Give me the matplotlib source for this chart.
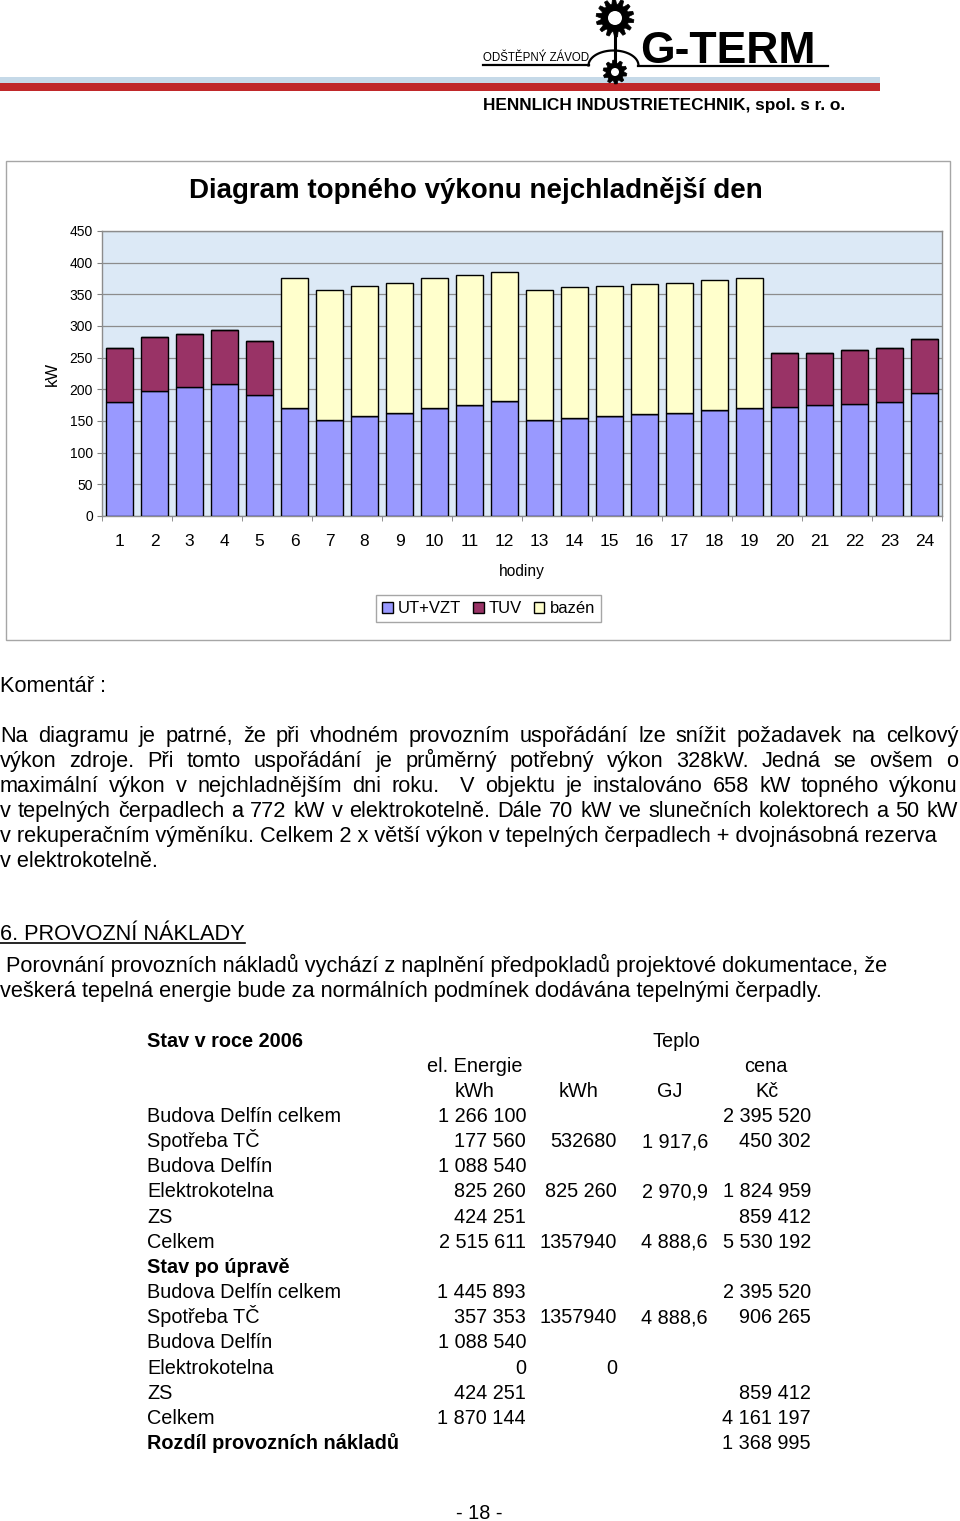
import numpy as np
import matplotlib
matplotlib.use('Agg')
import matplotlib.pyplot as plt
from matplotlib.patches import Rectangle, Polygon, Circle

plt.rcParams['font.family'] = ['Liberation Sans', 'DejaVu Sans']

# chart data (kW per hour of the coldest day)
hours = list(range(1, 25))
ut_vzt = [180, 198, 203, 208, 191, 170, 152, 158, 163, 170, 176, 181,
          152, 154, 158, 161, 163, 167, 170, 172, 175, 177, 180, 194]
tuv = [85, 84, 84, 85, 85, 0, 0, 0, 0, 0, 0, 0,
       0, 0, 0, 0, 0, 0, 0, 85, 83, 85, 85, 86]
bazen = [0, 0, 0, 0, 0, 205, 205, 205, 205, 205, 205, 205,
         205, 207, 205, 205, 205, 205, 205, 0, 0, 0, 0, 0]
series_names = ['UT+VZT', 'TUV', 'bazén']
series_colors = ['#9999ff', '#993366', '#ffffcc']

comment_lines = [
    "Na diagramu je patrné, že při vhodném provozním uspořádání lze snížit požadavek na celkový",
    "výkon zdroje. Při tomto uspořádání je průměrný potřebný výkon 328kW. Jedná se ovšem o",
    "maximální výkon v nejchladnějším dni roku.  V objektu je instalováno 658 kW topného výkonu",
    "v tepelných čerpadlech a 772 kW v elektrokotelně. Dále 70 kW ve slunečních kolektorech a 50 kW",
    "v rekuperačním výměníku. Celkem 2 x větší výkon v tepelných čerpadlech + dvojnásobná rezerva",
    "v elektrokotelně.",
]
justified = [True, True, True, True, False, False]

# cost table: label, el. energie kWh, teplo kWh, teplo GJ, cena Kč, bold
table_rows = [
    ("Budova Delfín celkem", "1 266 100", "", "", "2 395 520", False),
    ("Spotřeba TČ", "177 560", "532680", "1 917,6", "450 302", False),
    ("Budova Delfín", "1 088 540", "", "", "", False),
    ("Elektrokotelna", "825 260", "825 260", "2 970,9", "1 824 959", False),
    ("ZS", "424 251", "", "", "859 412", False),
    ("Celkem", "2 515 611", "1357940", "4 888,6", "5 530 192", False),
    ("Stav po úpravě", "", "", "", "", True),
    ("Budova Delfín celkem", "1 445 893", "", "", "2 395 520", False),
    ("Spotřeba TČ", "357 353", "1357940", "4 888,6", "906 265", False),
    ("Budova Delfín", "1 088 540", "", "", "", False),
    ("Elektrokotelna", "0", "0", "", "", False),
    ("ZS", "424 251", "", "", "859 412", False),
    ("Celkem", "1 870 144", "", "", "4 161 197", False),
    ("Rozdíl provozních nákladů", "", "", "", "1 368 995", True),
]

W, H = 960, 1521
fig = plt.figure(figsize=(W / 100, H / 100), dpi=100)
fig.patch.set_facecolor('white')

# page layer in pixel coordinates
pg = fig.add_axes([0, 0, 1, 1])
pg.set_xlim(0, W)
pg.set_ylim(H, 0)
pg.axis('off')
renderer = fig.canvas.get_renderer()

BODY = 15.7
TS = 14.3


def txt(x, y, s, size, **kw):
    # y is the visual middle of the line; place on a shared baseline
    return pg.text(x, y + 0.35 * size * 100 / 72, s, fontsize=size, va='baseline', **kw)


def gear(cx, cy, r_out, r_in, r_hole, n):
    pts = []
    for k in range(n):
        a0 = 2 * np.pi * k / n
        da = 2 * np.pi / n
        for a, r in [(a0, r_in), (a0 + da * 0.2, r_out), (a0 + da * 0.55, r_out), (a0 + da * 0.75, r_in)]:
            pts.append((cx + r * np.cos(a), cy + r * np.sin(a)))
    pg.add_patch(Polygon(pts, closed=True, fc='black', ec='black', lw=0.5))
    pg.add_patch(Circle((cx, cy), r_hole, fc='white', ec='none'))


# logo
pg.add_patch(Rectangle((0, 77.3), 880, 5.4, fc='#c5d9e8', ec='none'))
pg.add_patch(Rectangle((0, 83.3), 880, 7.4, fc='#c0282a', ec='none'))
pg.plot([483, 589], [65, 65], color='black', lw=1.6)
pg.plot([638, 828], [66, 66], color='black', lw=1.6)
t = np.linspace(0, np.pi, 40)
pg.plot(613.5 + 25 * np.cos(t), 65.5 - 15 * np.sin(t), color='black', lw=1.6)
pg.plot([615, 615], [30, 64], color='black', lw=2.2)
gear(615, 18, 19, 14, 7, 14)
gear(615, 72, 12, 9, 4, 10)
txt(483, 57, "ODŠTĚPNÝ ZÁVOD", 8.3, ha='left')
pg.text(640, 63, "G-TERM", fontsize=32, fontweight='bold', va='baseline', ha='left')
txt(483, 104, "HENNLICH INDUSTRIETECHNIK, spol. s r. o.", 12.4, fontweight='bold', ha='left')

# chart frame and texts
pg.add_patch(Rectangle((6, 160.5), 944, 479.5, fc='none', ec='#a6a6a6', lw=1))
txt(476, 188, "Diagram topného výkonu nejchladnější den", 20, fontweight='bold', ha='center')
pg.text(52, 374, "kW", fontsize=12, rotation=90, ha='center', va='center')
txt(522, 571, "hodiny", 11.2, ha='center')

# bar chart
ax = fig.add_axes([102 / W, 1 - 516 / H, 840 / W, 285 / H])
ax.set_facecolor('#dce9f6')
bottom2 = [u + v for u, v in zip(ut_vzt, tuv)]
b1 = ax.bar(hours, ut_vzt, width=0.77, color=series_colors[0], edgecolor='black', lw=1, zorder=3)
b2 = ax.bar(hours, tuv, bottom=ut_vzt, width=0.77, color=series_colors[1], edgecolor='black', lw=1, zorder=3)
b3 = ax.bar(hours, bazen, bottom=bottom2, width=0.77, color=series_colors[2], edgecolor='black', lw=1, zorder=3)
ax.set_xlim(0.5, 24.5)
ax.set_ylim(0, 450)
ax.set_yticks(range(0, 451, 50))
ax.yaxis.grid(True, color='#8c8c8c', lw=0.9, zorder=0)
ax.set_axisbelow(True)
ax.set_xticks(hours)
ax.set_xticks(np.arange(0.5, 25, 2), minor=True)
ax.tick_params(axis='x', which='major', length=0, pad=13, labelsize=12.5)
ax.tick_params(axis='x', which='minor', length=3.6, color='#808080')
ax.tick_params(axis='y', length=3.6, pad=3, labelsize=10, color='#808080')
for s in ax.spines.values():
    s.set_color('#8c8c8c')
    s.set_linewidth(1)
leg = fig.legend([b1, b2, b3], series_names, loc='center',
                 bbox_to_anchor=(488.5 / W, 1 - 608.5 / H), ncol=3, fontsize=12,
                 handlelength=0.65, handleheight=0.65, handletextpad=0.3,
                 columnspacing=0.7, borderpad=0.35, fancybox=False,
                 edgecolor='#a6a6a6', framealpha=1)
leg.get_frame().set_linewidth(1)


def put_line(x0, y, text, x1=None, size=BODY):
    if x1 is None:
        return txt(x0, y, text, size, ha='left')
    words = text.split(' ')
    objs = [txt(0, y, w, size, ha='left') for w in words]
    widths = [o.get_window_extent(renderer).width if w else 0 for o, w in zip(objs, words)]
    gap = (x1 - x0 - sum(widths)) / (len(words) - 1)
    x = x0
    for o, wd in zip(objs, widths):
        o.set_x(x)
        x += wd + gap
    return objs[0]


put_line(0, 684, "Komentář :")
for i, (ln, j) in enumerate(zip(comment_lines, justified)):
    put_line(0, 734 + 25 * i, ln, x1=958 if j else None)

sec = put_line(0, 932, "6. PROVOZNÍ NÁKLADY")
sw = sec.get_window_extent(renderer).width
pg.plot([0, sw], [943, 943], color='black', lw=1.2)
put_line(0, 964, " Porovnání provozních nákladů vychází z naplnění předpokladů projektové dokumentace, že")
put_line(0, 989, "veškerá tepelná energie bude za normálních podmínek dodávána tepelnými čerpadly.")

# table
col_right = [526, 617, 708, 811]
txt(147, 1040, "Stav v roce 2006", TS, fontweight='bold')
txt(676, 1040, "Teplo", TS, ha='center')
txt(475, 1065, "el. Energie", TS, ha='center')
txt(766, 1065, "cena", TS, ha='center')
for cx, lab in zip([475, 579, 670, 767], ["kWh", "kWh", "GJ", "Kč"]):
    txt(cx, 1090, lab, TS, ha='center')
for r, row in enumerate(table_rows):
    y = 1115 + 25.17 * r
    txt(147, y, row[0], TS, fontweight='bold' if row[5] else 'normal')
    for xr, val in zip(col_right, row[1:5]):
        if val:
            txt(xr, y, val, TS, ha='right')

txt(479, 1512, "- 18 -", TS, ha='center')

fig.savefig('out.png', dpi=100)
